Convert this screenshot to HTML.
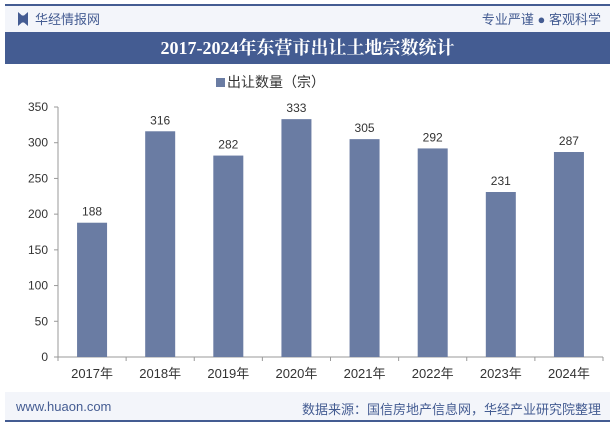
<!DOCTYPE html>
<html><head><meta charset="utf-8"><style>
body{margin:0;width:615px;height:427px;background:#fff;font-family:"Liberation Sans","Noto Sans CJK SC",sans-serif;overflow:hidden;position:relative}
.abs{position:absolute}
</style></head><body>
<div class="abs" style="left:5px;top:4px;width:605px;height:28px;background:#f3f5fa;border-top:2px solid #445c92"></div>
<div class="abs" style="left:18px;top:12px;width:10px;height:14px;background:#445c92;clip-path:polygon(0 0,40% 25%,60% 25%,100% 0,100% 100%,60% 75%,40% 75%,0 100%)"></div>
<div class="abs" style="left:35px;top:9px;font-size:13px;color:#445c92">华经情报网</div>
<div class="abs" style="right:14px;top:9px;font-size:13px;color:#445c92">专业严谨 ● 客观科学</div>
<div class="abs" style="left:5px;top:32px;width:605px;height:32px;background:#445c92;color:#fff;font-family:'Liberation Serif','Noto Serif CJK SC',serif;font-weight:bold;font-size:18px;line-height:32px;text-align:center">2017-2024年东营市出让土地宗数统计</div>
<div class="abs" style="left:216px;top:72px;font-size:14px;color:#333"><span style="display:inline-block;width:9px;height:9px;background:#6a7ca3;margin-right:2px"></span>出让数量（宗）</div>
<svg class="abs" style="left:0;top:0" width="615" height="427">
<g id="g"></g></svg>
<div class="abs" style="left:5px;top:392px;width:605px;height:28px;background:#f3f5fa;border-bottom:2px solid #445c92"></div>
<div class="abs" style="left:16px;top:399px;font-size:13px;color:#445c92">www.huaon.com</div>
<div class="abs" style="right:14px;top:399px;font-size:13px;color:#445c92">数据来源：国信房地产信息网，华经产业研究院整理</div>
<script>
const categories=["2017年","2018年","2019年","2020年","2021年","2022年","2023年","2024年"];
const values=[188,316,282,333,305,292,231,287];
const ticks=[0,50,100,150,200,250,300,350];
const g=document.getElementById('g');const NS='http://www.w3.org/2000/svg';
const x0=58,x1=603,y0=357,yTop=107,ymax=350;
const bw=(x1-x0)/categories.length;
const y=v=>y0-(v/ymax)*(y0-yTop);
function mk(t,a,txt){const e=document.createElementNS(NS,t);for(const k in a)e.setAttribute(k,a[k]);if(txt!=null)e.textContent=txt;g.appendChild(e);return e;}
let ax=mk('line',{x1:x0,y1:y0,x2:x1,y2:y0,stroke:'#999'});


let ay=mk('line',{x1:x0,y1:yTop,x2:x0,y2:y0,stroke:'#999'});


ticks.forEach(t=>{mk('line',{x1:x0-4,y1:y(t),x2:x0,y2:y(t),stroke:'#999'});
const l=mk('text',{x:x0-10,y:y(t)+4,'text-anchor':'end','font-size':12,fill:'#333'},t);

});
for(let i=0;i<=categories.length;i++)mk('line',{x1:x0+i*bw,y1:y0,x2:x0+i*bw,y2:y0+4,stroke:'#999'});
categories.forEach((c,i)=>{const cx=x0+(i+0.5)*bw;
const r=mk('rect',{x:cx-15,y:y(values[i]),width:30,height:y0-y(values[i]),fill:'#6a7ca3'});


const v=mk('text',{x:cx,y:y(values[i])-7,'text-anchor':'middle','font-size':12,fill:'#333'},values[i]);


const l=mk('text',{x:cx,y:y0+21,'text-anchor':'middle','font-size':13,fill:'#333'},c);

});
</script>
</body></html>
